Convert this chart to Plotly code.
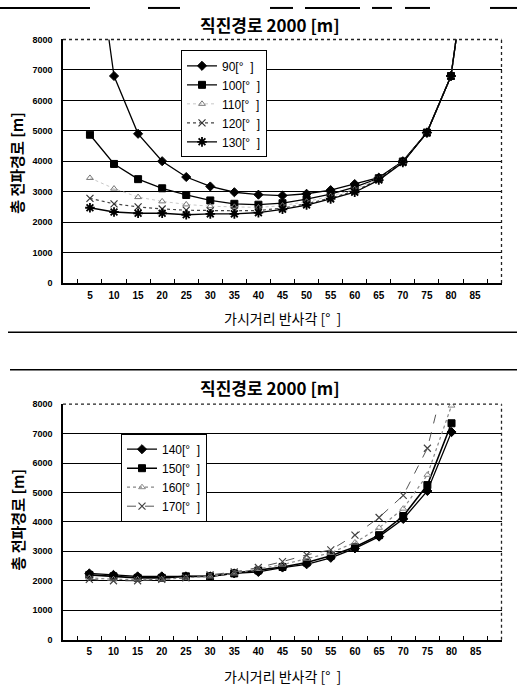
import plotly.graph_objects as go

angles = ["5", "10", "15", "20", "25", "30", "35", "40", "45", "50", "55", "60", "65", "70", "75", "80", "85"]

# top chart series (총 전파경로 [m])
s90 = [12500, 6800, 4900, 4000, 3480, 3170, 2980, 2900, 2870, 2930, 3050, 3250, 3460, 4000, 4940, 6800, 12500]
s100 = [4870, 3910, 3410, 3110, 2890, 2710, 2600, 2570, 2620, 2750, 2920, 3150, 3440, 3990, 4940, 6800, 12500]
s110 = [3450, 3100, 2820, 2680, 2580, 2520, 2500, 2480, 2540, 2670, 2850, 3080, 3420, 3980, 4940, 6800, 12500]
s120 = [2780, 2600, 2500, 2430, 2390, 2370, 2370, 2380, 2460, 2600, 2790, 3020, 3400, 3970, 4940, 6800, 12500]
s130 = [2470, 2330, 2290, 2290, 2240, 2270, 2270, 2310, 2420, 2560, 2760, 2980, 3380, 3960, 4940, 6800, 12500]

# bottom chart series
s140 = [2250, 2200, 2150, 2150, 2150, 2150, 2250, 2300, 2450, 2560, 2780, 3100, 3500, 4100, 5050, 7050, None]
s150 = [2200, 2150, 2100, 2100, 2150, 2150, 2250, 2350, 2470, 2620, 2850, 3150, 3550, 4200, 5250, 7350, None]
s160 = [2100, 2050, 2050, 2050, 2100, 2150, 2250, 2400, 2550, 2750, 2950, 3300, 3800, 4450, 5600, 7950, None]
s170 = [2050, 2000, 2000, 2050, 2100, 2200, 2300, 2450, 2650, 2880, 3050, 3550, 4150, 4900, 6500, 9800, None]

yticks = [0, 1000, 2000, 3000, 4000, 5000, 6000, 7000, 8000]

title_text = "직진경로 2000 [m]"
ytitle_text = "총 전파경로 [m]"
xtitle_text = "가시거리 반사각 [°  ]"

W, H = 517, 690
KR = "Noto Sans CJK KR"
NUM = "Liberation Sans"

fig = go.Figure()

def add(series, name, xa, ya, legend, color, dash, width, symbol, msize, mcolor, mline=1):
    fig.add_trace(go.Scatter(
        x=angles, y=series, name=name, mode="lines+markers",
        xaxis=xa, yaxis=ya, legend=legend,
        line=dict(color=color, dash=dash, width=width),
        marker=dict(symbol=symbol, size=msize, color=mcolor,
                    line=dict(color=mcolor, width=mline)),
        connectgaps=False,
    ))

add(s90, "90[°  ]", "x", "y", "legend", "black", "solid", 1.3, "diamond", 7, "black")
add(s100, "100[°  ]", "x", "y", "legend", "black", "solid", 1.3, "square", 7, "black")
add(s110, "110[°  ]", "x", "y", "legend", "#c8c8c8", "dot", 1, "triangle-up-open", 6, "#777777")
add(s120, "120[°  ]", "x", "y", "legend", "#444444", "dot", 1.2, "x-thin-open", 7, "#333333", 1.2)
add(s130, "130[°  ]", "x", "y", "legend", "black", "solid", 1.3, "asterisk-open", 8, "black", 1.8)

add(s140, "140[°  ]", "x2", "y2", "legend2", "black", "solid", 1.3, "diamond", 7, "black")
add(s150, "150[°  ]", "x2", "y2", "legend2", "black", "solid", 1.6, "square", 7, "black")
add(s160, "160[°  ]", "x2", "y2", "legend2", "#888888", "dot", 1.2, "triangle-up-open", 6, "#888888")
add(s170, "170[°  ]", "x2", "y2", "legend2", "#555555", "dash", 1, "x-thin-open", 7, "#444444", 1.2)

PL, PR = 63, 502
TOP_T, TOP_B = 35, 282
BOT_T, BOT_B = 405, 644
xl, xr = PL / W, PR / W
top_dom = [1 - TOP_B / H, 1 - TOP_T / H]
bot_dom = [1 - BOT_B / H, 1 - BOT_T / H]

xcommon = dict(type="category", categoryorder="array", categoryarray=angles,
               tickson="boundaries", ticks="inside", ticklen=4, tickcolor="black",
               showgrid=False, showline=True, linecolor="black", linewidth=1.5,
               tickfont=dict(family=NUM, size=10, color="black", weight="bold"),
               ticklabelstandoff=2, zeroline=False, fixedrange=True)
ycommon = dict(range=[0, 8000], tickvals=yticks, ticks="", showgrid=True,
               gridcolor="black", gridwidth=1, showline=True, linecolor="black",
               linewidth=1.5, zeroline=False,
               tickfont=dict(family=NUM, size=9, color="black", weight="bold"),
               ticklabelstandoff=7, fixedrange=True)

fig.update_layout(
    width=W, height=H, margin=dict(l=0, r=0, t=0, b=0),
    paper_bgcolor="white", plot_bgcolor="white",
    xaxis=dict(domain=[xl, xr], anchor="y", **xcommon),
    yaxis=dict(domain=top_dom, anchor="x", **ycommon),
    xaxis2=dict(domain=[xl, xr], anchor="y2", **xcommon),
    yaxis2=dict(domain=bot_dom, anchor="x2", **ycommon),
    legend=dict(x=181 / W, y=1 - 46 / H, xanchor="left", yanchor="top",
                bgcolor="white", bordercolor="black", borderwidth=1,
                font=dict(family=NUM, size=12, color="black"),
                itemwidth=30, tracegroupgap=0),
    legend2=dict(x=121 / W, y=1 - 435 / H, xanchor="left", yanchor="top",
                 bgcolor="white", bordercolor="black", borderwidth=1,
                 font=dict(family=NUM, size=12, color="black"),
                 itemwidth=30, tracegroupgap=0),
    showlegend=True,
)

# plot area borders (dotted, Excel style) on top and right, in page coordinates
for t, b in ((TOP_T, TOP_B), (BOT_T, BOT_B)):
    fig.add_shape(type="line", xref="paper", yref="paper",
                  x0=xl, x1=(PR - 0.5) / W, y0=1 - t / H, y1=1 - t / H,
                  line=dict(color="#222222", width=1.3, dash="dot"), layer="above")
    fig.add_shape(type="line", xref="paper", yref="paper",
                  x0=(PR - 0.5) / W, x1=(PR - 0.5) / W, y0=1 - b / H, y1=1 - t / H,
                  line=dict(color="#222222", width=1.3, dash="dot"), layer="above")

# titles
for ty in (20, 388):
    fig.add_annotation(x=270 / W, y=1 - ty / H, xref="paper", yref="paper",
                       xanchor="center", yanchor="middle",
                       text=title_text, showarrow=False,
                       font=dict(family=KR, size=17, color="black", weight="bold"))
for ty in (318, 681):
    fig.add_annotation(x=282 / W, y=1 - ty / H, xref="paper", yref="paper",
                       xanchor="center", yanchor="middle",
                       text=xtitle_text, showarrow=False,
                       font=dict(family=KR, size=14, color="black"))
for ty in (160, 522):
    fig.add_annotation(x=17 / W, y=1 - ty / H, xref="paper", yref="paper",
                       xanchor="center", yanchor="middle",
                       text=ytitle_text, showarrow=False, textangle=-90,
                       font=dict(family=KR, size=15, color="black", weight="bold"))

# page separator lines from the scanned document
segs_top = [(0, 90), (148, 180), (270, 293), (305, 360), (372, 392), (405, 430), (490, 517)]
for a, b in segs_top:
    fig.add_shape(type="line", xref="paper", yref="paper", x0=a / W, x1=b / W,
                  y0=1 - 3 / H, y1=1 - 3 / H, line=dict(color="black", width=2))
for yy, a in ((332, 8), (370, 10)):
    fig.add_shape(type="line", xref="paper", yref="paper", x0=a / W, x1=1,
                  y0=1 - yy / H, y1=1 - yy / H, line=dict(color="black", width=1.5))

fig.write_html("out.html", config={"displayModeBar": False},
               post_script="document.body.style.margin='0px';document.body.style.padding='0px';document.body.style.overflow='hidden';")
